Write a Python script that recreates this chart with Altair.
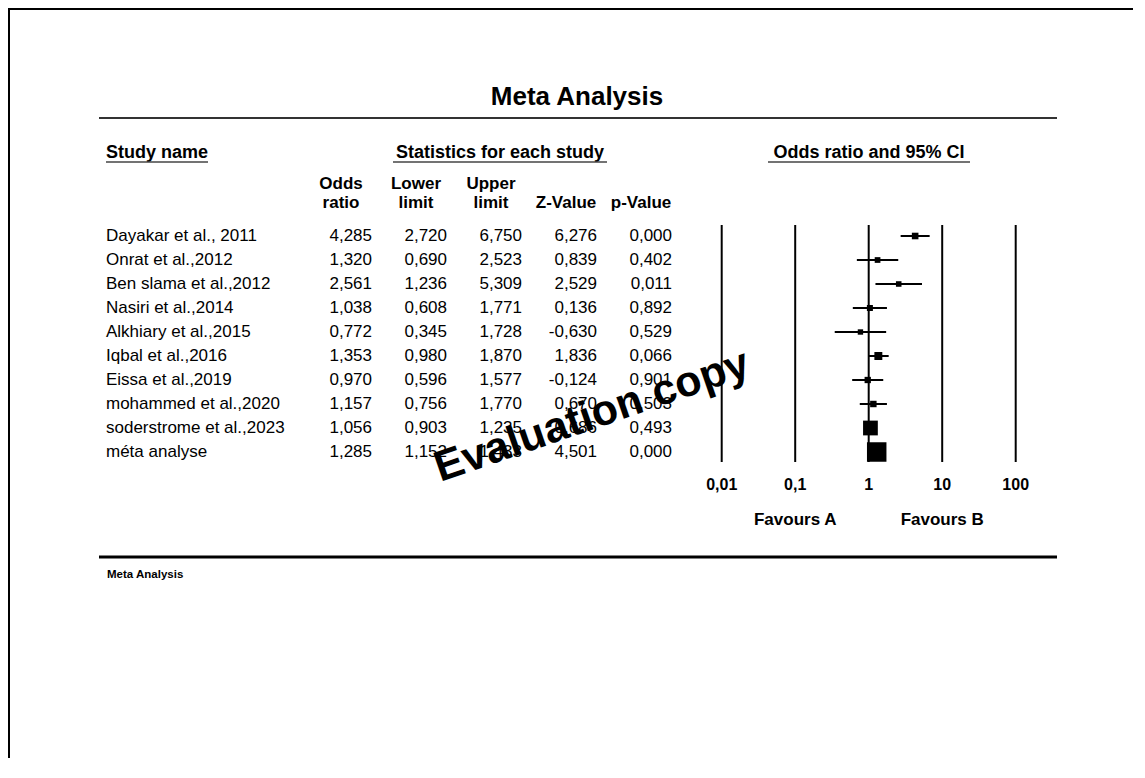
import altair as alt
import pandas as pd

# ---------------- data ----------------
studies = [
    "Dayakar et al., 2011", "Onrat et al.,2012", "Ben slama et al.,2012",
    "Nasiri et al.,2014", "Alkhiary et al.,2015", "Iqbal et al.,2016",
    "Eissa et al.,2019", "mohammed et al.,2020", "soderstrome et al.,2023",
    "méta analyse",
]
odds_ratio = [4.285, 1.320, 2.561, 1.038, 0.772, 1.353, 0.970, 1.157, 1.056, 1.285]
lower_limit = [2.720, 0.690, 1.236, 0.608, 0.345, 0.980, 0.596, 0.756, 0.903, 1.152]
upper_limit = [6.750, 2.523, 5.309, 1.771, 1.728, 1.870, 1.577, 1.770, 1.235, 1.433]
z_value = [6.276, 0.839, 2.529, 0.136, -0.630, 1.836, -0.124, 0.670, 0.686, 4.501]
p_value = [0.000, 0.402, 0.011, 0.892, 0.529, 0.066, 0.901, 0.503, 0.493, 0.000]
rel_weight = [6.5, 3.5, 3.0, 4.5, 2.5, 12.0, 5.5, 6.0, 55.0, 100.0]

stat_columns = ["Odds ratio", "Lower limit", "Upper limit", "Z-Value", "p-Value"]
header_line1 = ["Odds", "Lower", "Upper", "", ""]
header_line2 = ["ratio", "limit", "limit", "Z-Value", "p-Value"]

axis_ticks = [0.01, 0.1, 1, 10, 100]
axis_tick_labels = ["0,01", "0,1", "1", "10", "100"]
favours_at = [0.1, 10]
favours_labels = ["Favours A", "Favours B"]

title_text = ["Meta Analysis"]
section_study = ["Study name"]
section_stats = ["Statistics for each study"]
section_forest = ["Odds ratio and 95% CI"]
footer_text = ["Meta Analysis"]
watermark_text = ["Evaluation copy"]

FONT = "Liberation Sans"
W, H = 1125, 750


def fmt(v):
    return f"{v:.3f}".replace(".", ",")


# ---------------- tables ----------------
rows = pd.DataFrame({
    "study": studies, "or": odds_ratio, "lower": lower_limit,
    "upper": upper_limit, "weight": rel_weight,
})
cells = []
for i, s in enumerate(studies):
    for col, arr in zip(stat_columns, [odds_ratio, lower_limit, upper_limit, z_value, p_value]):
        cells.append({"study": s, "column": col, "value": fmt(arr[i])})
cells = pd.DataFrame(cells)
headers = pd.DataFrame({"column": stat_columns, "l1": header_line1, "l2": header_line2})
ticks = pd.DataFrame({"t": axis_ticks, "label": axis_tick_labels})
favours = pd.DataFrame({"t": favours_at, "label": favours_labels})
one = pd.DataFrame({"k": [0]})

# ---------------- shared encodings ----------------
Y_ROW = alt.Y("study:N", axis=None,
              scale=alt.Scale(type="point", domain=studies, range=[228, 444], padding=0))
COL_SCALE = alt.Scale(type="point", domain=stat_columns, range=[364, 664], padding=0)
LOG_SCALE = alt.Scale(type="log", domain=[0.01, 100], range=[713.7, 1007.7], nice=False)


def txt(df, field, x, y, size, bold=False, align="left", font=FONT, **kw):
    return alt.Chart(df).mark_text(
        font=font, fontSize=size, fontWeight="bold" if bold else "normal",
        align=align, baseline="middle", color="black", **kw
    ).encode(text=f"{field}:N", x=x, y=y)


def hline(x1, x2, y, w=2, color="black"):
    return alt.Chart(one).mark_rule(color=color, strokeWidth=w).encode(
        x=alt.value(x1), x2=alt.value(x2), y=alt.value(y))


def vline(x, y1, y2, w=2, color="black"):
    return alt.Chart(one).mark_rule(color=color, strokeWidth=w).encode(
        x=alt.value(x), y=alt.value(y1), y2=alt.value(y2))


# frame
frame_top = hline(0, W, 1)
frame_left = vline(1, 0, H)

# title + rules
title = txt(pd.DataFrame({"t": title_text}), "t", alt.value(569), alt.value(89), 26, True, "center")
title_rule = hline(91, 1049, 110, 2, "#333333")
footer_rule = hline(91, 1049, 549, 3)
footer = txt(pd.DataFrame({"t": footer_text}), "t", alt.value(99), alt.value(567), 11.5, True)

# section headers with underlines
sec1 = txt(pd.DataFrame({"t": section_study}), "t", alt.value(98), alt.value(145), 18, True)
sec1_u = hline(98, 200, 154, 1.5, "#444444")
sec2 = txt(pd.DataFrame({"t": section_stats}), "t", alt.value(492), alt.value(145), 18, True, "center")
sec2_u = hline(385, 599, 154, 1.5, "#444444")
sec3 = txt(pd.DataFrame({"t": section_forest}), "t", alt.value(861), alt.value(145), 18, True, "center")
sec3_u = hline(760, 962, 154, 1.5, "#444444")

# column headers
XCOL = alt.X("column:N", scale=COL_SCALE, axis=None)
hdr1 = txt(headers, "l1", XCOL, alt.value(176), 17, True, "center", dx=-31)
hdr2 = txt(headers, "l2", XCOL, alt.value(195), 17, True, "center", dx=-31)

# study names and numbers
names = txt(rows, "study", alt.value(98), Y_ROW, 17)
numbers = txt(cells, "value", XCOL, Y_ROW, 17, align="right")

# forest plot
grid = alt.Chart(ticks).mark_rule(color="black", strokeWidth=2).encode(
    x=alt.X("t:Q", scale=LOG_SCALE, axis=None), y=alt.value(217), y2=alt.value(454))
tick_labels = txt(ticks, "label", alt.X("t:Q", scale=LOG_SCALE, axis=None),
                  alt.value(477), 16, True, "center")
fav = txt(favours, "label", alt.X("t:Q", scale=LOG_SCALE, axis=None),
          alt.value(512), 17, True, "center")
ci = alt.Chart(rows).mark_rule(color="black", strokeWidth=2).encode(
    x=alt.X("lower:Q", scale=LOG_SCALE, axis=None), x2="upper:Q", y=Y_ROW)
pts = alt.Chart(rows).mark_square(filled=True, color="black", opacity=1).encode(
    x=alt.X("or:Q", scale=LOG_SCALE, axis=None), y=Y_ROW,
    size=alt.Size("weight:Q", scale=alt.Scale(domain=[0, 100], range=[20, 380]), legend=None))

# watermark
wm = alt.Chart(pd.DataFrame({"t": watermark_text})).mark_text(
    font=FONT, fontSize=43, fontWeight="bold", align="center", baseline="middle",
    angle=341, color="black"
).encode(text="t:N", x=alt.value(584), y=alt.value(408))

chart = alt.layer(
    frame_top, frame_left, title, title_rule, sec1, sec1_u, sec2, sec2_u, sec3, sec3_u,
    hdr1, hdr2, names, numbers, grid, tick_labels, fav, ci, pts, footer_rule, footer, wm,
).resolve_scale(x="independent").properties(
    width=W, height=H, padding=0, autosize=alt.AutoSizeParams(type="none"),
    background="white",
).configure_view(stroke=None)

chart.save("out.html", embed_options={"renderer": "svg", "actions": False})
